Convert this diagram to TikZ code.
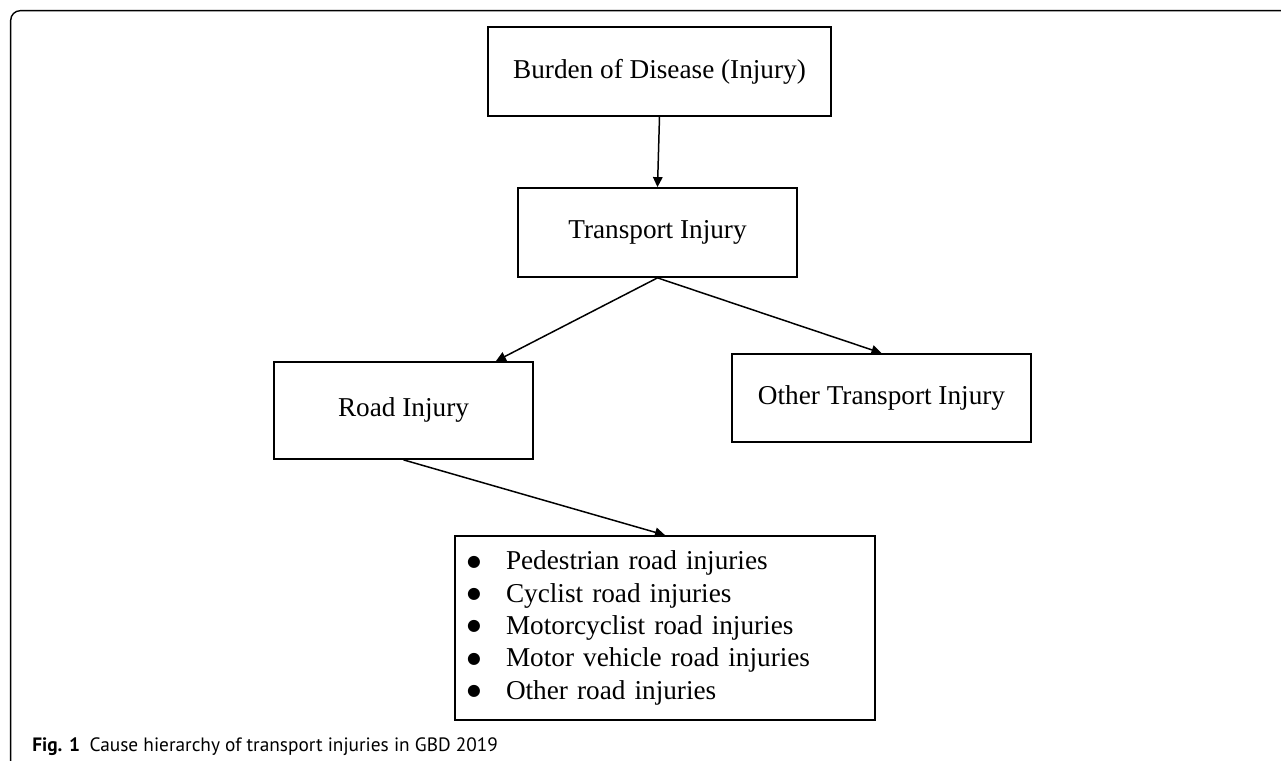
\documentclass[tikz,border=0pt]{standalone}
\usepackage{fontspec}
\setmainfont{Liberation Serif}
\newfontfamily\captionfont{PT Sans}
\newfontfamily\symfont{DejaVu Sans}
\usetikzlibrary{arrows.meta}

\newcommand{\bigbullet}{\makebox[0.78cm][l]{\raisebox{2.2pt}{\symfont\fontsize{9pt}{10pt}\selectfont ●}}}

\begin{document}
\begin{tikzpicture}[
    box/.style={draw, line width=1pt, inner sep=0pt, font=\fontsize{15.5pt}{18.4pt}\selectfont},
    link/.style={-{Triangle[length=0.2cm,width=0.19cm]}, line width=0.85pt}
]
    % Page frame
    \useasboundingbox (0,0) rectangle (25.62,15.22);
    \draw[line width=0.8pt, rounded corners=0.19cm] (0.214,0) -- (0.214,15.006) -- (25.62,15.006);

    % Cause levels
    \node[box, minimum width=6.86cm, minimum height=1.78cm] (burden) at (13.19,13.79) {Burden of Disease (Injury)};
    \node[box, minimum width=5.58cm, minimum height=1.78cm] (transport) at (13.15,10.57) {Transport Injury};
    \node[box, minimum width=5.18cm, minimum height=1.94cm] (road) at (8.07,7.01) {Road Injury};
    \node[box, minimum width=5.98cm, minimum height=1.76cm] (other) at (17.63,7.26) {Other Transport Injury};

    % Road injury subtypes
    \node[box, minimum height=3.68cm, text width=7.92cm, inner xsep=0.24cm, align=left] (subtypes) at (13.3,2.66) {%
        \bigbullet Pedestrian road injuries\\
        \bigbullet Cyclist road injuries\\
        \bigbullet Motorcyclist road injuries\\
        \bigbullet Motor vehicle road injuries\\
        \bigbullet Other road injuries};

    % Arrows
    \draw[link] (burden.south) -- (transport.north);
    \draw[link] (transport.south) -- ([xshift=-0.76cm]road.north east);
    \draw[link] (transport.south) -- (other.north);
    \draw[link] (road.south) -- (subtypes.north);

    % Caption
    \node[anchor=base west, inner sep=0pt, font=\captionfont\fontsize{11pt}{13pt}\selectfont] (caption) at (0.64,0.186)
        {\textbf{Fig. 1}\enspace Cause hierarchy of transport injuries in GBD 2019};
\end{tikzpicture}
\end{document}
